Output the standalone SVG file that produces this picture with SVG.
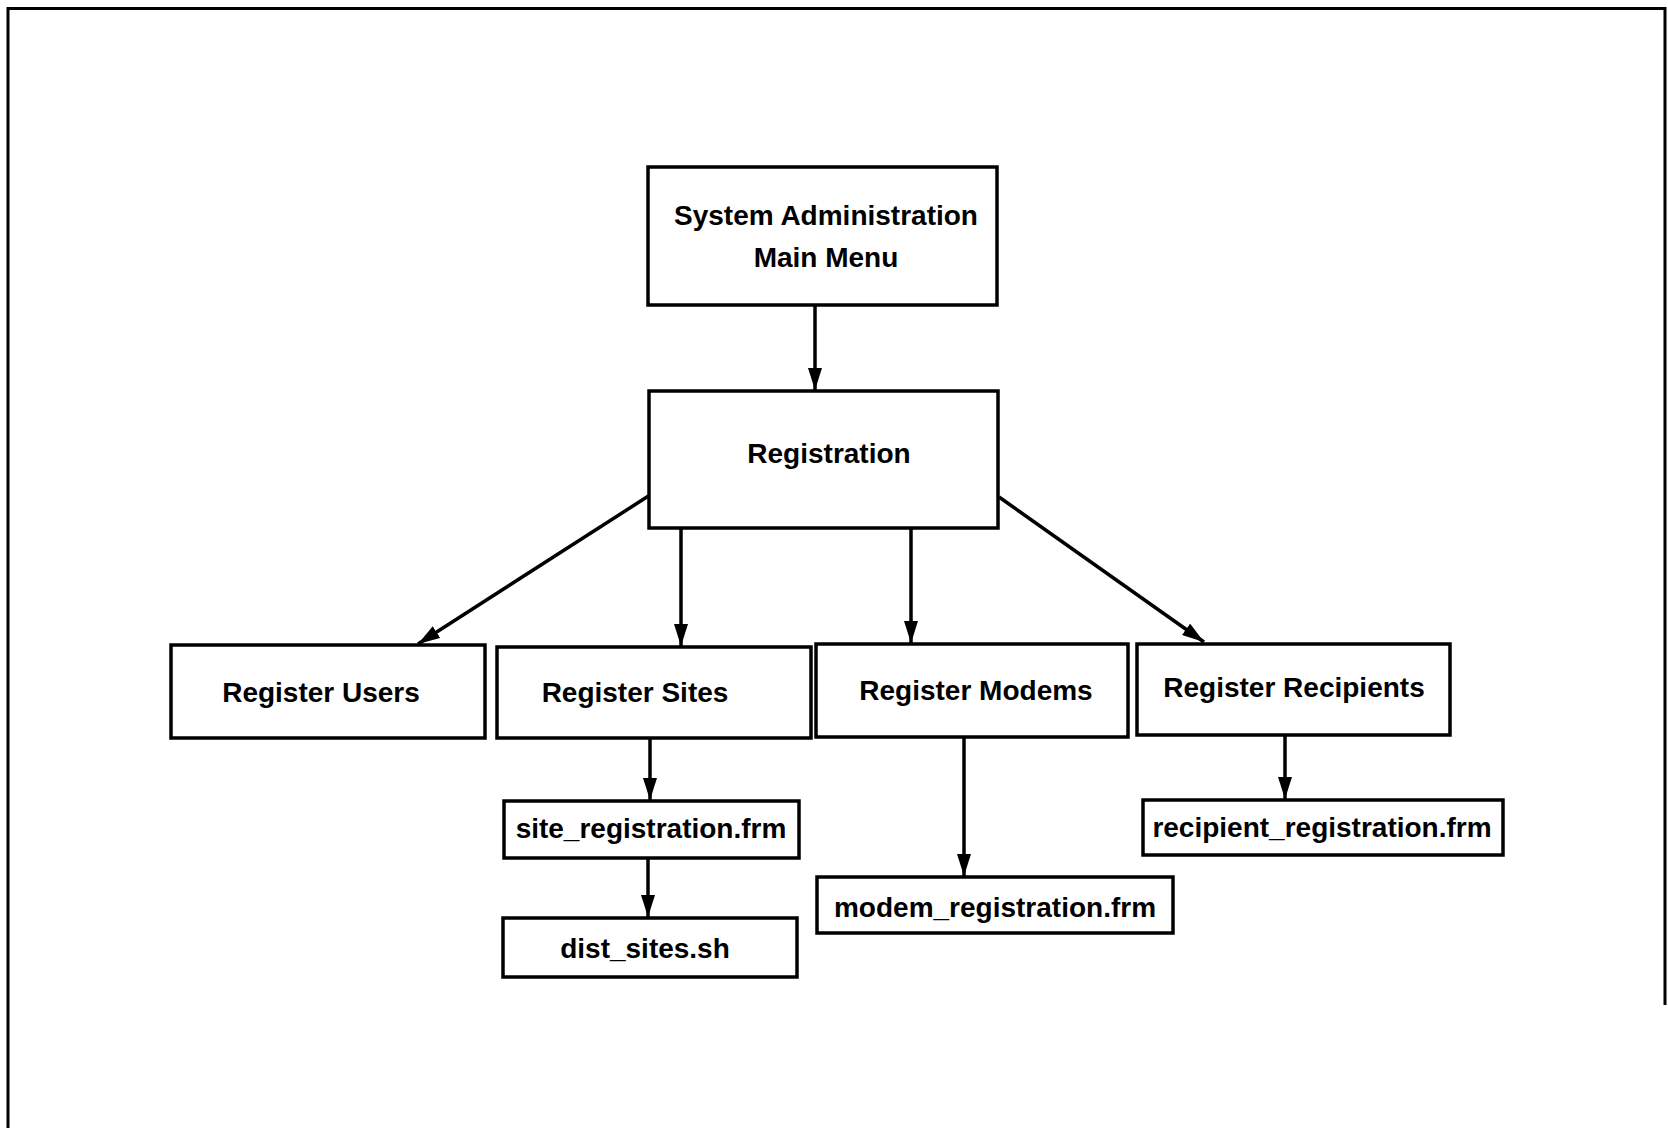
<svg xmlns="http://www.w3.org/2000/svg" width="1668" height="1128" viewBox="0 0 1668 1128">
  <style>
    .box { fill: #ffffff; stroke: #000000; stroke-width: 3.5; }
    .lbl { font-family: "Liberation Sans", Arial, sans-serif; font-weight: bold; font-size: 28px; fill: #000000; text-anchor: middle; }
    .conn { stroke: #000000; stroke-width: 3.5; fill: none; marker-end: url(#arrow); }
    .frame { stroke: #000000; stroke-width: 3; fill: none; }
  </style>
  <defs>
    <marker id="arrow" viewBox="0 0 22 14" refX="22" refY="7" markerWidth="22" markerHeight="14" markerUnits="userSpaceOnUse" orient="auto">
      <path d="M0,0 L22,7 L0,14 z" fill="#000000"/>
    </marker>
  </defs>
  <rect x="0" y="0" width="1668" height="1128" fill="#ffffff"/>
  <path class="frame" d="M8,1128 L8,8.5 L1665,8.5 L1665,1005"/>

  <g id="connectors">
    <line class="conn" x1="815" y1="305" x2="815" y2="390"/>
    <line class="conn" x1="650" y1="495" x2="418" y2="644"/>
    <line class="conn" x1="681" y1="528" x2="681" y2="646"/>
    <line class="conn" x1="911" y1="528" x2="911" y2="643"/>
    <line class="conn" x1="999" y1="497" x2="1204" y2="642"/>
    <line class="conn" x1="650" y1="738" x2="650" y2="800"/>
    <line class="conn" x1="648" y1="858" x2="648" y2="917"/>
    <line class="conn" x1="964" y1="737" x2="964" y2="876"/>
    <line class="conn" x1="1285" y1="735" x2="1285" y2="799"/>
  </g>

  <g id="sysadmin">
    <rect class="box" x="648" y="167" width="349" height="138"/>
    <text class="lbl" x="826" y="225">System Administration</text>
    <text class="lbl" x="826" y="267">Main Menu</text>
  </g>
  <g id="registration">
    <rect class="box" x="649" y="391" width="349" height="137"/>
    <text class="lbl" x="829" y="463">Registration</text>
  </g>
  <g id="register-users">
    <rect class="box" x="171" y="645" width="314" height="93"/>
    <text class="lbl" x="321" y="702">Register Users</text>
  </g>
  <g id="register-sites">
    <rect class="box" x="497" y="647" width="314" height="91"/>
    <text class="lbl" x="635" y="702">Register Sites</text>
  </g>
  <g id="register-modems">
    <rect class="box" x="816" y="644" width="312" height="93"/>
    <text class="lbl" x="976" y="700">Register Modems</text>
  </g>
  <g id="register-recipients">
    <rect class="box" x="1137" y="644" width="313" height="91"/>
    <text class="lbl" x="1294" y="697">Register Recipients</text>
  </g>
  <g id="site-registration">
    <rect class="box" x="504" y="801" width="295" height="57"/>
    <text class="lbl" x="651" y="838">site_registration.frm</text>
  </g>
  <g id="dist-sites">
    <rect class="box" x="503" y="918" width="294" height="59"/>
    <text class="lbl" x="645" y="958">dist_sites.sh</text>
  </g>
  <g id="modem-registration">
    <rect class="box" x="817" y="877" width="356" height="56"/>
    <text class="lbl" x="995" y="917">modem_registration.frm</text>
  </g>
  <g id="recipient-registration">
    <rect class="box" x="1143" y="800" width="360" height="55"/>
    <text class="lbl" x="1322" y="837">recipient_registration.frm</text>
  </g>
</svg>
